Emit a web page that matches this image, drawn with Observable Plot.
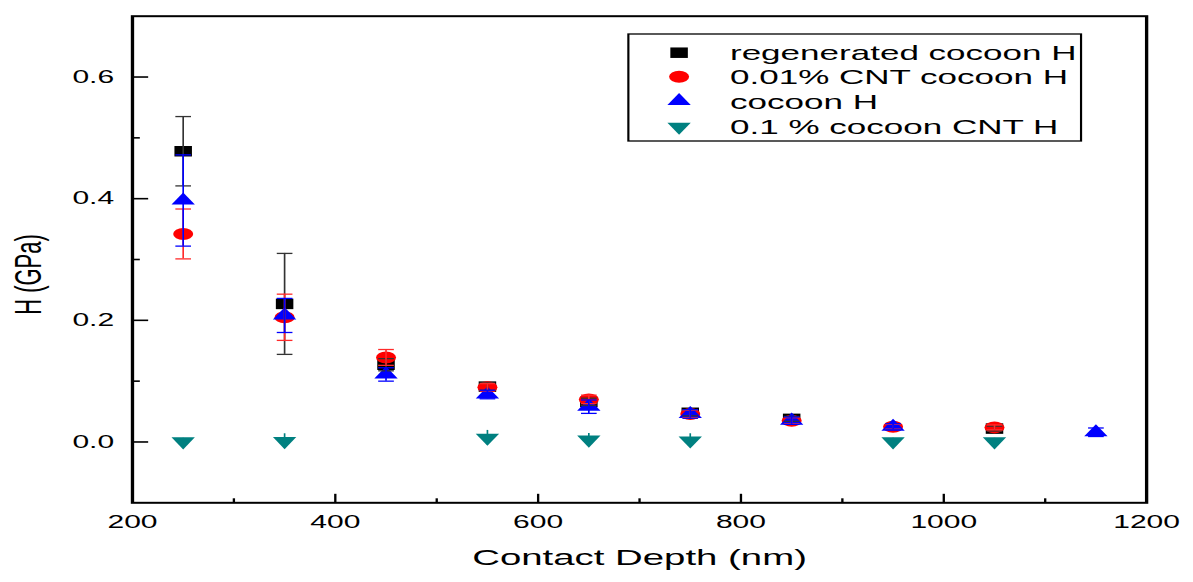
<!DOCTYPE html>
<html>
<head>
<meta charset="utf-8">
<script src="https://cdn.jsdelivr.net/npm/d3@7"></script>
<script src="https://cdn.jsdelivr.net/npm/@observablehq/plot@0.6"></script>
<style>
  html, body { margin: 0; padding: 0; background: white; overflow: hidden; }
  #wrap { position: relative; width: 715px; height: 582px; transform-origin: 0 0; }
  #wrap svg { position: absolute; left: 0; top: 0; }
</style>
</head>
<body>
<div id="wrap"></div>
<script>
// ---- data ----
const depth     = [250, 350, 450, 550, 650, 750, 850, 950, 1050, 1150];
const regenH    = [0.478, 0.227, 0.127, 0.091, 0.066, 0.048, 0.038, null, 0.022, null];
const regenErr  = [0.057, 0.083, 0.010, 0.006, 0.006, 0.005, 0.004, null, 0.004, null];
const cnt001H   = [0.342, 0.205, 0.139, 0.090, 0.070, 0.046, 0.035, 0.025, 0.024, null];
const cnt001Err = [0.041, 0.038, 0.013, 0.006, 0.007, 0.006, 0.005, 0.004, 0.004, null];
const cocoonH   = [0.397, 0.208, 0.111, 0.078, 0.058, 0.046, 0.035, 0.025, null, 0.016];
const cocoonErr = [0.075, 0.028, 0.011, 0.007, 0.011, 0.007, 0.006, 0.005, null, 0.007];
const cnt01H    = [0.001, 0.0015, null, 0.007, 0.004, 0.0025, null, 0.001, 0.001, null];
const cnt01Err  = [0.005, 0.012, null, 0.012, 0.010, 0.011, null, 0.005, 0.005, null];

const seriesNames = ["regenerated cocoon H", "0.01% CNT cocoon H", "cocoon H", "0.1 % cocoon CNT H"];
const xMajor = [200, 400, 600, 800, 1000, 1200];
const xMinor = [300, 500, 700, 900, 1100];
const yMajor = [0.0, 0.2, 0.4, 0.6];
const yMinor = [0.1, 0.3, 0.5];

const rowsOf = (vals, errs) => depth.map((x, i) => ({x, y: vals[i], e: errs[i]})).filter(d => d.y != null);
const regen = rowsOf(regenH, regenErr);
const c001 = rowsOf(cnt001H, cnt001Err);
const coc = rowsOf(cocoonH, cocoonErr);
const c01 = rowsOf(cnt01H, cnt01Err);

// ---- layout ----
const W = 715, H = 582, S = 1193 / W;
document.getElementById("wrap").style.transform = `scaleX(${S})`;

// custom symbols
const rOf = size => Math.sqrt(size / Math.PI);
const capSym = {draw(ctx, size) { const h = rOf(size); ctx.moveTo(-h, 0); ctx.lineTo(h, 0); }};
const vTick = {draw(ctx, size) { const L = rOf(size); ctx.moveTo(0, 0); ctx.lineTo(0, -L); }};
const hTick = {draw(ctx, size) { const L = rOf(size); ctx.moveTo(0, 0); ctx.lineTo(L, 0); }};
const triDown = {draw(ctx, size) {
  const k = Math.sqrt(size / (Math.sqrt(3) * 3));
  ctx.moveTo(0, 2 * k); ctx.lineTo(Math.sqrt(3) * k, -k); ctx.lineTo(-Math.sqrt(3) * k, -k); ctx.closePath();
}};

const colors = ["#000000", "#ff0000", "#0000ff", "#008080"];
const barColors = ["#333333", "#ff2a2a", "#0000ff", "#008080"];

function errMarks(rows, color, caps) {
  const m = [Plot.ruleX(rows, {x: "x", y1: d => d.y - d.e, y2: d => d.y + d.e, stroke: color, strokeWidth: 1})];
  if (caps) {
    m.push(Plot.dot(rows, {x: "x", y: d => d.y + d.e, symbol: capSym, r: 4.7, stroke: color, fill: "none", strokeWidth: 1.3}));
    m.push(Plot.dot(rows, {x: "x", y: d => d.y - d.e, symbol: capSym, r: 4.7, stroke: color, fill: "none", strokeWidth: 1.3}));
  }
  return m;
}

const chart = Plot.plot({
  width: W, height: H,
  marginLeft: 78.9, marginRight: 28.3, marginTop: 15.7, marginBottom: 79.7,
  x: {domain: [200, 1200]},
  y: {domain: [-0.1, 0.7]},
  style: {fontFamily: "'Liberation Sans', Arial, sans-serif", background: "white", color: "black"},
  marks: [
    Plot.axisX({ticks: xMajor, tickSize: 0, tickPadding: 12, fontSize: 18, tickFormat: d3.format("d"), label: null}),
    Plot.axisY({ticks: yMajor, tickSize: 0, tickPadding: 11, fontSize: 18, tickFormat: d3.format(".1f"), label: null}),
    Plot.dot(xMajor, {x: d => d, frameAnchor: "bottom", symbol: vTick, r: 9, stroke: "black", fill: "none", strokeWidth: 1.4}),
    Plot.dot(xMinor, {x: d => d, frameAnchor: "bottom", symbol: vTick, r: 4.5, stroke: "black", fill: "none", strokeWidth: 1.4}),
    Plot.dot(yMajor, {y: d => d, frameAnchor: "left", symbol: hTick, r: 9.4, stroke: "black", fill: "none", strokeWidth: 1.6}),
    Plot.dot(yMinor, {y: d => d, frameAnchor: "left", symbol: hTick, r: 4.4, stroke: "black", fill: "none", strokeWidth: 1.6}),
    // symbols
    Plot.dot(regen, {x: "x", y: "y", symbol: "square", r: 5.92, fill: colors[0], stroke: "none"}),
    Plot.dot(c001, {x: "x", y: "y", symbol: "circle", r: 6, fill: colors[1], stroke: "none"}),
    Plot.dot(coc, {x: "x", y: "y", symbol: "triangle", r: 5.2, fill: colors[2], stroke: "none"}),
    Plot.dot(c01, {x: "x", y: "y", symbol: triDown, r: 5.2, fill: colors[3], stroke: "none"}),
    // error bars
    ...errMarks(regen, barColors[0], true),
    ...errMarks(c001, barColors[1], true),
    ...errMarks(coc, barColors[2], true),
    ...errMarks(c01, barColors[3], false),
    Plot.frame({stroke: "black", strokeWidth: 2}),
    // axis titles
    Plot.text(["Contact Depth (nm)"], {frameAnchor: "bottom", text: d => d, textAnchor: "middle", lineAnchor: "bottom", dy: 62, fontSize: 23, fill: "black"}),
    Plot.text(["H (GPa)"], {frameAnchor: "left", text: d => d, textAnchor: "middle", rotate: -90, dx: -62.1, dy: 15, fontSize: 22, fill: "black"})
  ]
});
document.getElementById("wrap").appendChild(chart);

// ---- legend ----
const lg = d3.select("#wrap").append("svg").attr("width", W).attr("height", H)
  .style("font-family", "'Liberation Sans', Arial, sans-serif");
lg.append("rect").attr("x", 376.6).attr("y", 34).attr("width", 271.3).attr("height", 107)
  .attr("fill", "white").attr("stroke", "black").attr("stroke-width", 1.3);
const legSyms = [
  d3.symbol(d3.symbolSquare, Math.PI * 5.92 * 5.92)(),
  d3.symbol(d3.symbolCircle, Math.PI * 36)(),
  d3.symbol(d3.symbolTriangle, Math.PI * 5.2 * 5.2)(),
  d3.symbol(triDown, Math.PI * 5.2 * 5.2)()
];
const rowY = [52.7, 76.7, 101, 126.7];
seriesNames.forEach((name, i) => {
  lg.append("path").attr("d", legSyms[i]).attr("transform", `translate(407,${rowY[i]})`).attr("fill", colors[i]);
  lg.append("text").attr("x", 437.5).attr("y", rowY[i]).attr("dy", "0.36em")
    .attr("font-size", 21).attr("fill", "black").text(name);
});
</script>
</body>
</html>
